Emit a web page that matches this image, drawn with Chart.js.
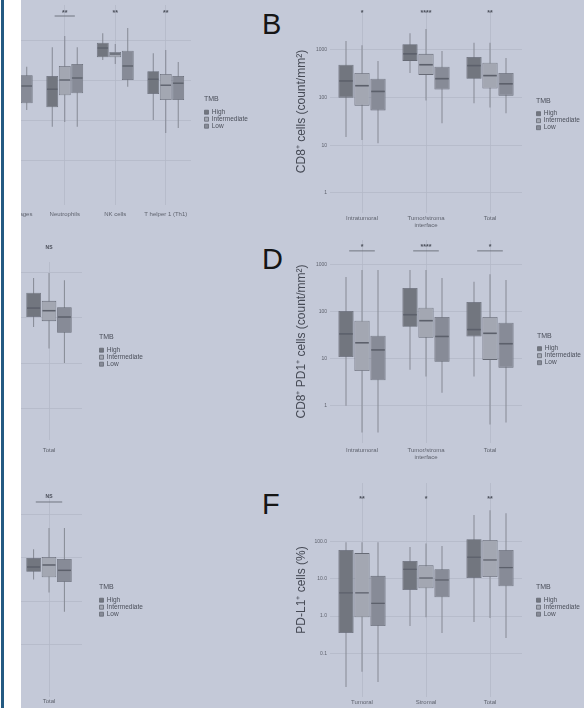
<!DOCTYPE html>
<html>
<head>
<meta charset="utf-8">
<script src="https://cdn.jsdelivr.net/npm/chart.js@4.4.0/dist/chart.umd.min.js"></script>
<style>
  html, body { margin: 0; padding: 0; width: 584px; height: 708px; overflow: hidden; background: #c4c9d8; font-family: 'Liberation Sans', Arial, sans-serif; }
  canvas { position: absolute; }
  .letter { position: absolute; font-size: 29px; line-height: 1; color: #151515; }
  #strip { position: absolute; left: 0; top: 0; width: 21px; height: 708px; background: #fff; z-index: 5; }
  #strip::before { content: ''; position: absolute; left: 1px; top: 0; width: 3px; height: 100%; background: #245a82; }
</style>
</head>
<body>
<canvas id="pA" width="300" height="230" style="left:-40px;top:0px"></canvas>
<canvas id="pB" width="320" height="230" style="left:290px;top:0px"></canvas>
<canvas id="pC" width="220" height="232" style="left:-40px;top:232px"></canvas>
<canvas id="pD" width="320" height="232" style="left:290px;top:232px"></canvas>
<canvas id="pE" width="220" height="242" style="left:-40px;top:466px"></canvas>
<canvas id="pF" width="320" height="242" style="left:290px;top:466px"></canvas>
<div class="letter" style="left:262px;top:10px">B</div>
<div class="letter" style="left:262px;top:245px">D</div>
<div class="letter" style="left:262px;top:490px">F</div>
<div id="strip"></div>
<script>
// each row: [min, q1, median, q3, max]
const aCats = ['Macrophages', 'Neutrophils', 'NK cells', 'T helper 1 (Th1)'];
const aHigh = [null, [68, 209, 589, 1259, 6600], [3160, 3715, 6310, 8510, 14800], [100, 447, 1047, 1660, 4680]];
const aInter = [null, [89, 417, 1000, 2240, 12600], [2510, 3715, 4470, 5010, 7940], [47, 316, 741, 1413, 5620]];
const aLow = [[178, 263, 708, 1318, 2140], [68, 468, 1122, 2510, 6600], [676, 1000, 2240, 5370, 19950], [63, 316, 832, 1259, 2820]];
const aSig = ['', '**', '**', '**'];
const aBracket = [false, true, false, false];

const bCats = ['Intratumoral', ['Tumor/stroma', 'interface'], 'Total'];
const bHigh = [[15, 100, 224, 490, 1550], [330, 590, 830, 1320, 2240], [76, 250, 470, 710, 1410]];
const bInter = [[13, 68, 178, 330, 1260], [87, 300, 490, 830, 2750], [62, 155, 290, 540, 1410]];
const bLow = [[11, 54, 135, 250, 590], [29, 148, 250, 445, 955], [47, 110, 195, 330, 680]];
const bSig = ['*', '****', '**'];

const cCats = ['Total'];
const cHigh = [[63, 105, 166, 363, 776]];
const cInter = [[21, 85, 145, 240, 1000]];
const cLow = [[10, 47, 105, 174, 692]];
const cSig = ['NS'];

const dCats = ['Intratumoral', ['Tumor/stroma', 'interface'], 'Total'];
const dHigh = [[1, 11, 34, 105, 550], [5.9, 48, 87, 324, 776], [4.2, 30, 42, 162, 437]];
const dInter = [[0.27, 5.5, 22, 65, 776], [4.2, 28, 65, 123, 776], [0.4, 9.5, 35, 78, 631]];
const dLow = [[0.27, 3.5, 15.5, 31, 776], [1.9, 8.7, 30, 78, 525], [0.44, 6.5, 21, 59, 479]];
const dSig = ['*', '****', '*'];
const dBracket = [true, true, true];

const eCats = ['Total'];
const eHigh = [[32, 48, 62, 100, 158]];
const eInter = [[16, 36, 69, 105, 490]];
const eLow = [[5.8, 28, 52, 95, 490]];
const eSig = ['NS'];
const eBracket = [true];

const fCats = ['Tumoral', 'Stromal', 'Total'];
const fHigh = [[0.0126, 0.35, 4.2, 59, 95], [0.54, 5, 18, 30, 71], [0.69, 10.5, 38, 115, 513]];
const fInter = [[0.032, 0.93, 4.2, 49, 95], [0.93, 5.6, 10.5, 23, 89], [0.89, 11.2, 32, 110, 692]];
const fLow = [[0.017, 0.54, 2.2, 12, 95], [0.35, 3.2, 9.3, 18, 76], [0.26, 6.3, 20, 59, 575]];
const fSig = ['**', '*', '**'];

const decTicks = [1, 10, 100, 1000];
const decLabels = ['1', '10', '100', '1000'];
const aTicks = [10, 100, 1000, 10000];
const fTicks = [0.1, 1, 10, 100];
const fLabels = ['0.1', '1.0', '10.0', '100.0'];

const tmbLevels = ['High', 'Intermediate', 'Low'];
const fills = ['#72767f', '#a3a7b2', '#878b97'];
const edge = '#666a75';
const whisk = '#858994';
const medCol = '#5c606b';
const gridCol = '#b4b9c8';
const MF = 1.04; // median line half-thickness, as a ratio on the log axis

Chart.defaults.font.family = "'Liberation Sans', Arial, sans-serif";
Chart.defaults.animation = false;

// significance stars / brackets, placed with the chart's own scales
const sigPlugin = {
  id: 'sig',
  afterDraw(chart, args, o) {
    if (!o.labels) return;
    const ctx = chart.ctx;
    const xs = chart.scales.x, ys = chart.scales.y;
    const y = ys.getPixelForValue(o.at);
    const half = xs.width / o.labels.length * 0.2;
    ctx.save();
    ctx.fillStyle = '#4b4f5a';
    ctx.strokeStyle = '#5b5f6a';
    ctx.lineWidth = 0.8;
    ctx.font = 'bold ' + o.size + "px 'Liberation Sans', Arial, sans-serif";
    ctx.textAlign = 'center';
    ctx.textBaseline = 'middle';
    o.labels.forEach((t, i) => {
      if (!t) return;
      const x = xs.getPixelForValue(i);
      ctx.fillText(t, x, y);
      if (o.bracket && o.bracket[i]) {
        ctx.beginPath();
        ctx.moveTo(x - half, y + o.drop);
        ctx.lineTo(x + half, y + o.drop);
        ctx.stroke();
      }
    });
    ctx.restore();
  }
};

function boxChart(id, p) {
  const rows = [p.high, p.inter, p.low];
  const common = k => ({ stack: tmbLevels[k], categoryPercentage: p.catPct, barPercentage: 0.95 });
  const datasets = [];
  rows.forEach((r, k) => datasets.push(Object.assign(common(k), {
    label: tmbLevels[k], data: r.map(v => v && [v[1], v[3]]),
    backgroundColor: fills[k], borderColor: edge, borderWidth: 0.8, borderSkipped: false, order: 2
  })));
  rows.forEach((r, k) => datasets.push(Object.assign(common(k), {
    label: tmbLevels[k] + ' whisker', data: r.map(v => v && [v[0], v[4]]),
    backgroundColor: whisk, maxBarThickness: 1, order: 3
  })));
  rows.forEach((r, k) => datasets.push(Object.assign(common(k), {
    label: tmbLevels[k] + ' median', data: r.map(v => v && [v[2] / MF, v[2] * MF]),
    backgroundColor: medCol, barPercentage: 0.85, order: 1
  })));

  const canvas = document.getElementById(id);
  const chart = new Chart(canvas, {
    type: 'bar',
    data: { labels: p.cats, datasets },
    plugins: [sigPlugin],
    options: {
      responsive: false,
      layout: { padding: { left: p.padLeft, right: 10, top: p.padTop, bottom: 0 } },
      scales: {
        x: {
          type: 'category', offset: true,
          grid: { offset: false, color: gridCol, lineWidth: 0.8, drawTicks: false },
          border: { display: false },
          ticks: { font: { size: 6 }, color: '#5f636e', padding: p.xPad, maxRotation: 0, autoSkip: false },
          afterFit: s => { s.height = p.xHeight; }
        },
        y: {
          type: 'logarithmic', min: p.yMin, max: p.yMax, stacked: false,
          afterBuildTicks: s => { s.ticks = p.yTicks.map(v => ({ value: v })); },
          grid: { color: gridCol, lineWidth: 0.8, drawTicks: false },
          border: { display: false },
          ticks: { display: !!p.yLabels, font: { size: 5 }, color: '#5f636e', padding: 3,
                   callback: (v, i) => p.yLabels ? p.yLabels[i] : '' },
          title: { display: !!p.yTitle, text: p.yTitle, font: { size: 12 }, color: '#464a55', padding: { top: 4, bottom: 0 } },
          afterFit: s => { s.width = p.yWidth; }
        },
        gap: {
          type: 'linear', position: 'right', grid: { display: false }, border: { display: false },
          ticks: { display: false }, afterFit: s => { s.width = p.gap; }
        }
      },
      plugins: {
        tooltip: { enabled: false },
        legend: {
          position: 'right', align: 'center', fullSize: false, maxWidth: 120,
          labels: {
            filter: item => item.datasetIndex < 3,
            boxWidth: 4, boxHeight: 4, padding: 0.5, color: '#4b4f5a', font: { size: 6.5 }
          },
          title: { display: true, text: 'TMB', position: 'start', color: '#4b4f5a', font: { size: 7 },
                   padding: { top: p.legendDrop, bottom: 4 } }
        },
        sig: p.sig
      }
    }
  });
  // put the plot's right edge where the reference has it
  for (let i = 0; i < 3; i++) {
    const d = chart.chartArea.right - p.plotRight;
    if (Math.abs(d) < 0.5) break;
    chart.options.layout.padding.right = Math.max(0, chart.options.layout.padding.right + d);
    chart.update();
  }
  return chart;
}

boxChart('pA', {
  cats: aCats, high: aHigh, inter: aInter, low: aLow, catPct: 0.742,
  yMin: 0.75, yMax: 75000, yTicks: aTicks, yLabels: null, yTitle: '', yWidth: 0,
  padLeft: 29, plotRight: 231, padTop: 5, xHeight: 25, xPad: 6, gap: 13, legendDrop: 16,
  sig: { labels: aSig, bracket: aBracket, at: 47300, size: 7, drop: 3 }
});
boxChart('pB', {
  cats: bCats, high: bHigh, inter: bInter, low: bLow, catPct: 0.75,
  yMin: 0.38, yMax: 6900, yTicks: decTicks, yLabels: decLabels, yTitle: 'CD8⁺ cells (count/mm²)', yWidth: 40,
  padLeft: 0, plotRight: 232, padTop: 10, xHeight: 17, xPad: 2, gap: 14, legendDrop: 6,
  sig: { labels: bSig, at: 6000, size: 7, drop: 3 }
});
boxChart('pC', {
  cats: cCats, high: cHigh, inter: cInter, low: cLow, catPct: 0.7,
  yMin: 0.195, yMax: 1750, yTicks: decTicks, yLabels: null, yTitle: '', yWidth: 0,
  padLeft: 56, plotRight: 122, padTop: 30, xHeight: 24, xPad: 7, gap: 17, legendDrop: 0,
  sig: { labels: cSig, at: 3590, size: 5, drop: 4 }
});
boxChart('pD', {
  cats: dCats, high: dHigh, inter: dInter, low: dLow, catPct: 0.75,
  yMin: 0.162, yMax: 3390, yTicks: decTicks, yLabels: decLabels, yTitle: 'CD8⁺ PD1⁺ cells (count/mm²)', yWidth: 40,
  padLeft: 0, plotRight: 232, padTop: 8, xHeight: 21, xPad: 4, gap: 15, legendDrop: 16,
  sig: { labels: dSig, bracket: dBracket, at: 2420, size: 7, drop: 4 }
});
boxChart('pE', {
  cats: eCats, high: eHigh, inter: eInter, low: eLow, catPct: 0.7,
  yMin: 0.0638, yMax: 2800, yTicks: decTicks, yLabels: null, yTitle: '', yWidth: 0,
  padLeft: 56, plotRight: 122, padTop: 29, xHeight: 11, xPad: 1, gap: 17, legendDrop: 10,
  sig: { labels: eSig, bracket: eBracket, at: 2520, size: 5, drop: 5 }
});
boxChart('pF', {
  cats: fCats, high: fHigh, inter: fInter, low: fLow, catPct: 0.75,
  yMin: 0.00676, yMax: 3715, yTicks: fTicks, yLabels: fLabels, yTitle: 'PD-L1⁺ cells (%)', yWidth: 40,
  padLeft: 0, plotRight: 232, padTop: 17, xHeight: 11, xPad: 2, gap: 14, legendDrop: 22,
  sig: { labels: fSig, at: 1380, size: 7, drop: 3 }
});
</script>
</body>
</html>
